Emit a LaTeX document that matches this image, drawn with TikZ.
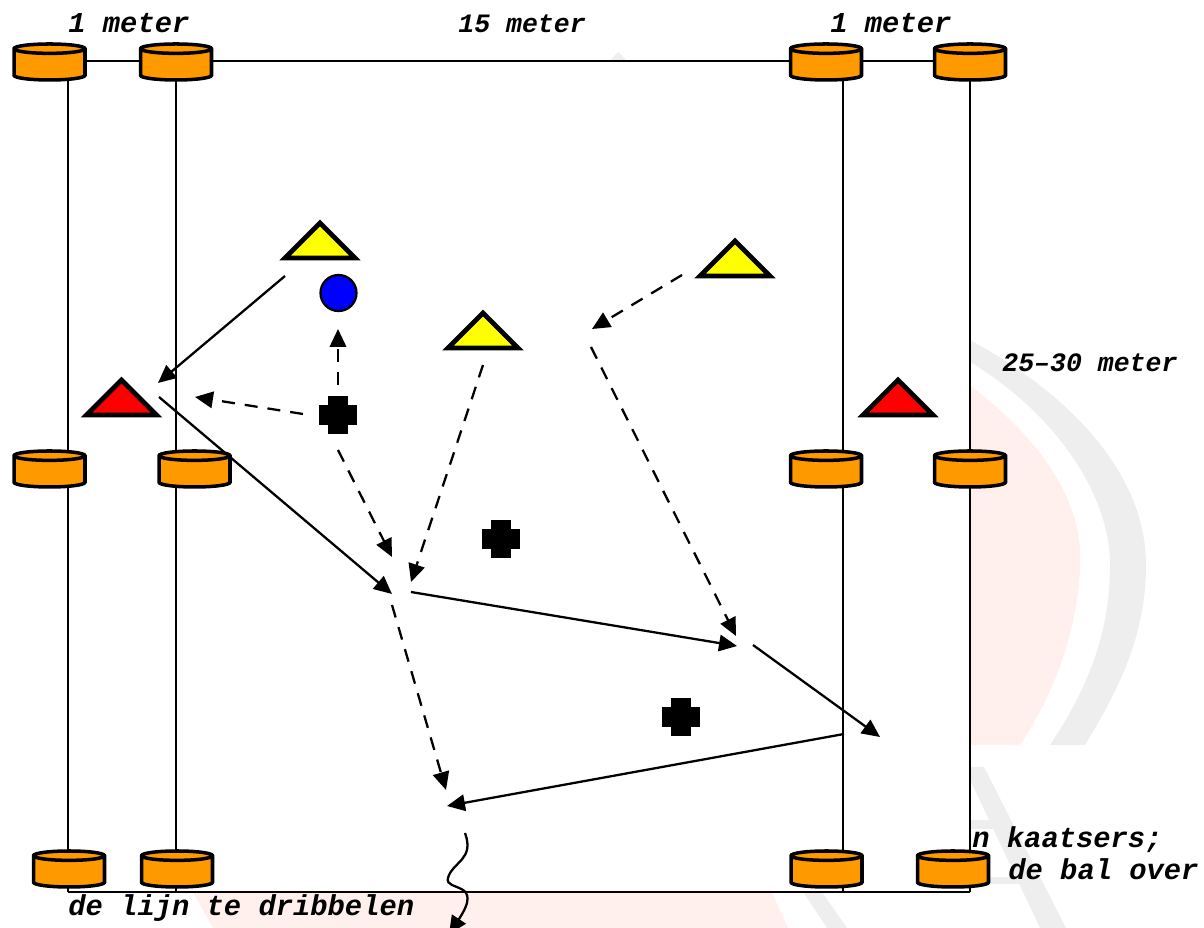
\documentclass[tikz,border=0pt]{standalone}
\usepackage{xcolor}
\usepackage{fontspec}
\usepackage{tikz}
\usetikzlibrary{shapes.geometric,arrows.meta}
\setmonofont{Liberation Mono}
\definecolor{Cone}{HTML}{ff9900}
\definecolor{Attacker}{HTML}{ffff00}
\definecolor{Defender}{HTML}{ff0000}
\definecolor{Ball}{HTML}{0000ff}
\definecolor{MarkPink}{HTML}{fff0ed}
\definecolor{MarkGray}{HTML}{eeeeee}
\tikzset{
  conemark/.style={cylinder, shape border rotate=90, draw, line width=2pt, fill=Cone, outer sep=0pt, minimum width=1.42cm, minimum height=0.72cm, aspect=0.8},
  tri/.style={isosceles triangle, isosceles triangle apex angle=90, shape border rotate=90, draw, line width=2.7pt, inner sep=0pt, outer sep=0pt, minimum height=0.70cm, anchor=lower side},
  armh/.style={fill=black, inner sep=0pt, outer sep=0pt, minimum width=0.76cm, minimum height=0.40cm},
  armv/.style={fill=black, inner sep=0pt, outer sep=0pt, minimum width=0.40cm, minimum height=0.76cm},
  label/.style={anchor=base west, inner sep=0pt, font=\fontsize{16.4}{18}\selectfont\ttfamily\bfseries\itshape},
  smalllabel/.style={anchor=base west, inner sep=0pt, font=\fontsize{15.1}{18}\selectfont\ttfamily\bfseries\itshape},
  pass/.style={line width=1.3pt, -{Triangle[length=0.36cm,width=0.33cm]}},
  run/.style={pass, dash pattern=on 0.26cm off 0.2cm},
}
\begin{document}
\begin{tikzpicture}[x=0.02cm,y=-0.02cm]%
\useasboundingbox (0,0) rectangle (1204,928);%
% watermark
\fill[MarkPink] (970,385) .. controls (1040,440) and (1085,500) .. (1080,570) .. controls (1076,640) and (1050,700) .. (1020,745) -- (970,745) -- cycle;%
\fill[MarkGray] (970,340) .. controls (1080,400) and (1146,480) .. (1146,565) .. controls (1146,640) and (1115,695) .. (1085,745) -- (1050,745) .. controls (1090,685) and (1110,630) .. (1110,565) .. controls (1110,490) and (1050,410) .. (970,362) -- cycle;%
\fill[MarkGray] (964,767) -- (984,767) -- (1066,928) -- (1040,928) -- cycle;%
\fill[MarkGray] (960,820) rectangle (1005,829);%
\fill[MarkGray] (960,877) rectangle (1034,884);%
\fill[MarkPink] (193,892) -- (772,892) -- (788,928) -- (213,928) -- cycle;%
\fill[MarkGray] (803,892) -- (822,892) -- (847,928) -- (827,928) -- cycle;%
\fill[MarkGray] (610,61) -- (618,52) -- (627,61) -- cycle;%
\node[label] (kaatsers) at (972,847) {n kaatsers;};%
% field
\fill[white] (68,61) rectangle (970,892);%
\draw[line width=1.3pt] (50,61) -- (970,61);%
\draw[line width=1.3pt] (68,892) -- (970,892);%
\draw[line width=1.3pt] (68,61) -- (68,892);%
\draw[line width=1.3pt] (176,61) -- (176,892);%
\draw[line width=1.3pt] (843,61) -- (843,892);%
\draw[line width=1.3pt] (970,61) -- (970,892);%
% cones
\node[conemark] (c1) at (49.5,66.5) {};%
\node[conemark] (c2) at (176,66.5) {};%
\node[conemark] (c3) at (826,66.5) {};%
\node[conemark] (c4) at (970,66.5) {};%
\node[conemark] (c5) at (49.5,473.5) {};%
\node[conemark] (c6) at (194.5,473.5) {};%
\node[conemark] (c7) at (826,473.5) {};%
\node[conemark] (c8) at (970,473.5) {};%
\node[conemark] (c9) at (69,873.5) {};%
\node[conemark] (c10) at (177,873.5) {};%
\node[conemark] (c11) at (826.5,873.5) {};%
\node[conemark] (c12) at (953,873.5) {};%
% players
\node[tri, fill=Attacker] (a1) at (320,258) {};%
\node[tri, fill=Attacker] (a2) at (735,276) {};%
\node[tri, fill=Attacker] (a3) at (483,348) {};%
\node[tri, fill=Defender] (d1) at (121.5,415) {};%
\node[tri, fill=Defender] (d2) at (898,415) {};%
\node[circle, draw, fill=Ball, line width=1.3pt, inner sep=0pt, minimum size=0.72cm] (ball) at (338.5,293) {};%
\node[armh] (k1) at (338,415) {};%
\node[armv] at (k1) {};%
\node[armh] (k2) at (501,539) {};%
\node[armv] at (k2) {};%
\node[armh] (k3) at (681,717) {};%
\node[armv] at (k3) {};%
% texts
\node[label] (one1) at (68,33) {1 meter};%
\node[smalllabel] (fifteen) at (458,33) {15 meter};%
\node[label] (one2) at (830,33) {1 meter};%
\node[smalllabel] (length) at (1002,372) {25–30 meter};%
\node[label] (balover) at (1008,880) {de bal over};%
\node[label] (lijn) at (68,915) {de lijn te dribbelen};%
% ends of the passes and runs
\coordinate (s1) at (285,276);%
\coordinate (e1) at (158,383);%
\coordinate (s2) at (159,397);%
\coordinate (e2) at (392,594);%
\coordinate (s3) at (411,592);%
\coordinate (e3) at (737,646);%
\coordinate (s4) at (753,645);%
\coordinate (e4) at (880,737);%
\coordinate (s5) at (844,734);%
\coordinate (e5) at (447,806);%
\coordinate (r1) at (338,385);%
\coordinate (t1) at (338,329);%
\coordinate (r2) at (303,414);%
\coordinate (t2) at (195,397);%
\coordinate (r3) at (338,450);%
\coordinate (t3) at (392,557);%
\coordinate (r4) at (483,365);%
\coordinate (t4) at (411,582);%
\coordinate (r5) at (682,275);%
\coordinate (t5) at (592,329);%
\coordinate (r6) at (591,347);%
\coordinate (t6) at (736,636);%
\coordinate (r7) at (392,605);%
\coordinate (t7) at (446,790);%
\coordinate (w1) at (465,833);%
\coordinate (w2) at (448,878);%
\coordinate (w3) at (449,934);%
\draw[pass] (s1) -- (e1);%
\draw[pass] (s2) -- (e2);%
\draw[pass] (s3) -- (e3);%
\draw[pass] (s4) -- (e4);%
\draw[pass] (s5) -- (e5);%
\draw[run] (r1) -- (t1);%
\draw[run] (r2) -- (t2);%
\draw[run] (r3) -- (t3);%
\draw[run] (r4) -- (t4);%
\draw[run] (r5) -- (t5);%
\draw[run] (r6) -- (t6);%
\draw[run] (r7) -- (t7);%
\draw[pass] (w1) .. controls (475,860) and (452,862) .. (w2) .. controls (444,892) and (485,880) .. (w3);%
\end{tikzpicture}
\end{document}
